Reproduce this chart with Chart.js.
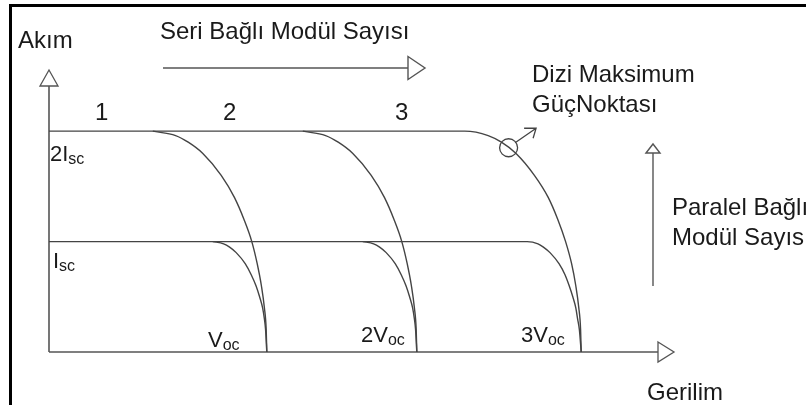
<!DOCTYPE html>
<html lang="tr">
<head>
<meta charset="utf-8">
<title>Seri ve Paralel Bağlı Modüller: Akım–Gerilim</title>
<script src="https://cdn.jsdelivr.net/npm/chart.js@4/dist/chart.umd.min.js"></script>
<style>
  html, body { margin: 0; padding: 0; background: #fff; }
  #wrap { width: 806px; height: 405px; }
</style>
</head>
<body>
<div id="wrap"><canvas id="iv" width="806" height="405"></canvas></div>
<script>
// Akım: Isc = 1, 2Isc = 2 ; gerilim ekseni göreli birimlerde
const akimSeviyeleri = [1, 2];

// Tek paralel kol (Isc seviyesi) – 1, 2 ve 3 seri modül
const isc1Seri = [[27.3,1],[29.1,0.98],[30.1,0.95],[31.2,0.9],[32.7,0.8],[33.7,0.7],[34.5,0.6],[35.1,0.5],[35.6,0.4],[35.9,0.3],[36.1,0.2],[36.3,0]];
const isc2Seri = [[52.3,1],[54.1,0.98],[55.1,0.95],[56.2,0.9],[57.7,0.8],[58.7,0.7],[59.5,0.6],[60.1,0.5],[60.6,0.4],[60.9,0.3],[61.1,0.2],[61.3,0]];
const isc3Seri = [[0,1],[79.7,1],[81.5,0.98],[82.4,0.95],[83.5,0.9],[85.0,0.8],[86.0,0.7],[86.7,0.6],[87.3,0.5],[87.8,0.4],[88.1,0.3],[88.4,0.2],[88.7,0]];

// İki paralel kol (2Isc seviyesi) – 1, 2 ve 3 seri modül
const iki1Seri = [[17.3,2],[21.1,1.96],[23.2,1.9],[25.6,1.8],[28.7,1.6],[30.9,1.4],[32.5,1.2],[33.8,1.0],[34.7,0.8],[35.4,0.6],[35.9,0.4],[36.2,0.2],[36.3,0]];
const iki2Seri = [[42.3,2],[46.1,1.96],[48.2,1.9],[50.6,1.8],[53.7,1.6],[55.9,1.4],[57.5,1.2],[58.8,1.0],[59.7,0.8],[60.4,0.6],[60.9,0.4],[61.2,0.2],[61.3,0]];
const iki3Seri = [[0,2],[69.3,2],[73.2,1.96],[75.4,1.9],[77.8,1.8],[80.9,1.6],[83.2,1.4],[84.8,1.2],[86.1,1.0],[87.1,0.8],[87.8,0.6],[88.3,0.4],[88.6,0.2],[88.7,0]];

// Dizi maksimum güç noktası
const mppNoktasi = [76.6, 1.85];

// Etiketler
const seriSayilari = ['1', '2', '3'];
const akimEtiketleri = [['2I', 'sc'], ['I', 'sc']];
const gerilimEtiketleri = [['V', 'oc'], ['2V', 'oc'], ['3V', 'oc']];

const CIZGI = '#444';
const OK = '#555';
const YAZI = '#1a1a1a';
const FONT = '"Liberation Sans", Arial, Helvetica, sans-serif';

function egri(noktalar) {
  return {
    data: noktalar.map(p => ({ x: p[0], y: p[1] })),
    borderColor: CIZGI,
    borderWidth: 1.4,
    pointRadius: 0,
    fill: false,
    cubicInterpolationMode: 'monotone',
    clip: false
  };
}

function acikUcgen(ctx, pts) {
  ctx.beginPath();
  ctx.moveTo(pts[0][0], pts[0][1]);
  for (let i = 1; i < pts.length; i++) ctx.lineTo(pts[i][0], pts[i][1]);
  ctx.closePath();
  ctx.fillStyle = '#fff';
  ctx.fill();
  ctx.stroke();
}

function altIndisli(ctx, ana, alt, x, y) {
  ctx.font = '22px ' + FONT;
  ctx.fillText(ana, x, y);
  const w = ctx.measureText(ana).width;
  ctx.font = '16px ' + FONT;
  ctx.fillText(alt, x + w, y + 3);
}

const cizimEklentisi = {
  id: 'diyagram',
  beforeDraw(chart) {
    const ctx = chart.ctx;
    ctx.save();
    ctx.fillStyle = '#fff';
    ctx.fillRect(0, 0, chart.width, chart.height);
    // çerçeve
    ctx.strokeStyle = '#000';
    ctx.lineWidth = 3;
    ctx.strokeRect(10.5, 5.5, 900, 600);
    // eksenler
    const x0 = chart.scales.x.getPixelForValue(0);
    const y0 = chart.scales.y.getPixelForValue(0);
    ctx.strokeStyle = OK;
    ctx.lineWidth = 1.6;
    ctx.beginPath();
    ctx.moveTo(x0, y0);
    ctx.lineTo(x0, 86);
    ctx.moveTo(x0, y0);
    ctx.lineTo(658, y0);
    ctx.stroke();
    ctx.lineWidth = 1.3;
    acikUcgen(ctx, [[x0 - 9, 86], [x0, 70], [x0 + 9, 86]]);
    acikUcgen(ctx, [[658, y0 - 10], [674, y0], [658, y0 + 10]]);
    ctx.restore();
  },
  afterDraw(chart) {
    const ctx = chart.ctx;
    const sx = chart.scales.x, sy = chart.scales.y;
    ctx.save();
    ctx.fillStyle = YAZI;
    ctx.textBaseline = 'alphabetic';

    // başlıklar
    ctx.font = '24px ' + FONT;
    ctx.fillText('Akım', 18, 48);
    ctx.fillText('Seri Bağlı Modül Sayısı', 160, 39);
    ctx.fillText('Dizi Maksimum', 532, 82);
    ctx.fillText('GüçNoktası', 532, 112);
    ctx.fillText('Paralel Bağlı', 672, 215);
    ctx.fillText('Modül Sayısı', 672, 245);
    ctx.fillText('Gerilim', 647, 400);

    // seri modül numaraları
    const numaraX = [95, 223, 395];
    seriSayilari.forEach((s, i) => ctx.fillText(s, numaraX[i], 120));

    // akım etiketleri
    const yIki = sy.getPixelForValue(akimSeviyeleri[1]);
    const yBir = sy.getPixelForValue(akimSeviyeleri[0]);
    altIndisli(ctx, akimEtiketleri[0][0], akimEtiketleri[0][1], 50, yIki + 30);
    altIndisli(ctx, akimEtiketleri[1][0], akimEtiketleri[1][1], 53, yBir + 26);

    // gerilim etiketleri
    const gx = [208, 361, 521];
    const gy = [347, 342, 342];
    gerilimEtiketleri.forEach((g, i) => altIndisli(ctx, g[0], g[1], gx[i], gy[i]));

    // seri bağlantı oku
    ctx.strokeStyle = OK;
    ctx.lineWidth = 1.4;
    ctx.beginPath();
    ctx.moveTo(163, 68);
    ctx.lineTo(408, 68);
    ctx.stroke();
    acikUcgen(ctx, [[408, 56.5], [425, 68], [408, 79.5]]);

    // paralel bağlantı oku
    ctx.beginPath();
    ctx.moveTo(653, 286);
    ctx.lineTo(653, 153);
    ctx.stroke();
    acikUcgen(ctx, [[646, 153], [653, 144], [660, 153]]);

    // maksimum güç noktası oku
    const mx = sx.getPixelForValue(mppNoktasi[0]);
    const my = sy.getPixelForValue(mppNoktasi[1]);
    const ux = mx + 27.5, uy = my - 19.5;
    ctx.strokeStyle = CIZGI;
    ctx.lineWidth = 1.3;
    ctx.beginPath();
    ctx.moveTo(mx + 6.5, my - 5);
    ctx.lineTo(ux, uy);
    ctx.moveTo(ux - 12, uy);
    ctx.lineTo(ux, uy);
    ctx.lineTo(ux - 3, uy + 10);
    ctx.stroke();
    ctx.restore();
  }
};

new Chart(document.getElementById('iv'), {
  type: 'line',
  data: {
    datasets: [
      egri(isc1Seri), egri(isc2Seri), egri(isc3Seri),
      egri(iki1Seri), egri(iki2Seri), egri(iki3Seri),
      {
        data: [{ x: mppNoktasi[0], y: mppNoktasi[1] }],
        showLine: false,
        pointStyle: 'circle',
        pointRadius: 9,
        pointBorderWidth: 1.3,
        pointBorderColor: CIZGI,
        pointBackgroundColor: 'rgba(0,0,0,0)',
        clip: false
      }
    ]
  },
  options: {
    responsive: false,
    animation: false,
    events: [],
    layout: { padding: { left: 49, top: 87, right: 157, bottom: 53 } },
    scales: {
      x: { type: 'linear', min: 0, max: 100, display: false },
      y: { type: 'linear', min: 0, max: 2.4, display: false }
    },
    plugins: {
      legend: { display: false },
      tooltip: { enabled: false }
    }
  },
  plugins: [cizimEklentisi]
});
</script>
</body>
</html>
